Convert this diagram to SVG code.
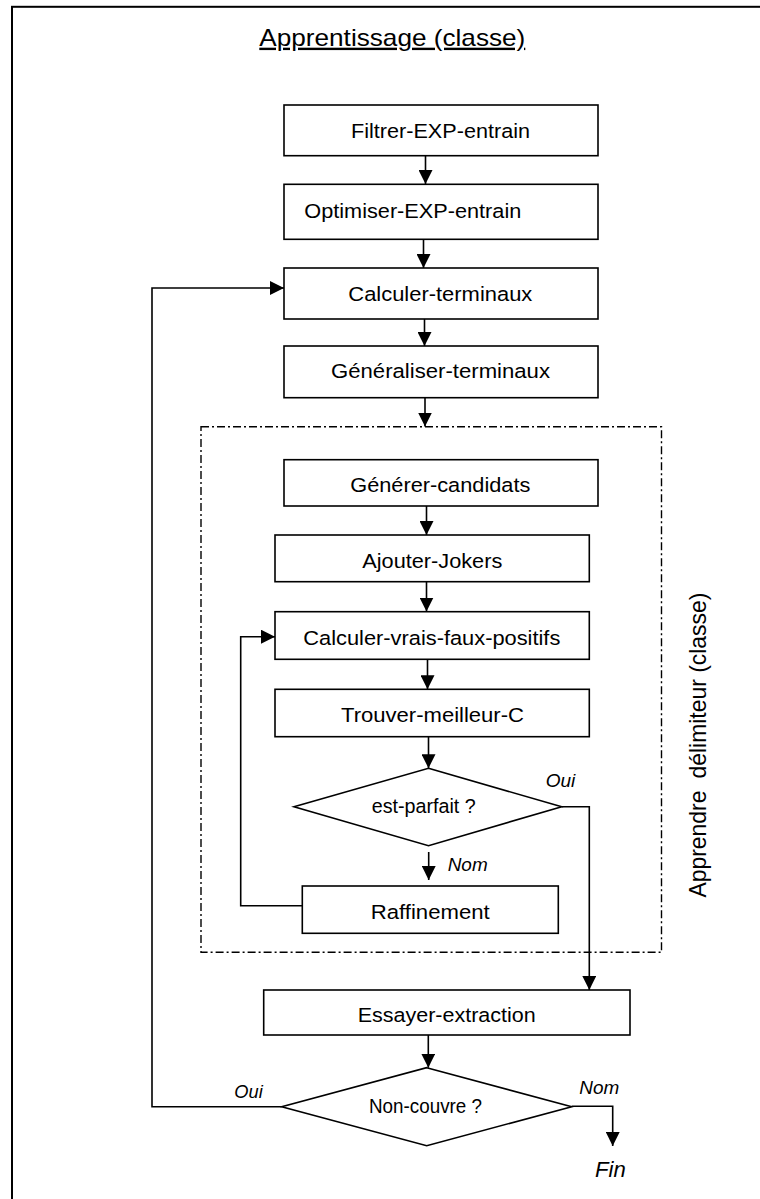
<svg xmlns="http://www.w3.org/2000/svg" width="760" height="1199" viewBox="0 0 760 1199">
<style>
  .box{fill:#fff;stroke:#000;stroke-width:1.6}
  .lbl{font-family:"Liberation Sans",Arial,sans-serif;font-size:20.5px;fill:#000}
  .it{font-family:"Liberation Sans",Arial,sans-serif;font-size:18px;font-style:italic;fill:#000}
  .cn{fill:none;stroke:#000;stroke-width:1.6}
  .arr{marker-end:url(#ah)}
</style>
<defs>
  <marker id="ah" viewBox="0 0 14 14" refX="14" refY="7" markerWidth="14" markerHeight="14" markerUnits="userSpaceOnUse" orient="auto">
    <path d="M0,0 L14,7 L0,14 Z" fill="#000"/>
  </marker>
</defs>
<rect width="760" height="1199" fill="#fff"/>
<rect id="frame" x="12" y="6.8" width="760" height="1200" fill="none" stroke="#000" stroke-width="2"/>
<text id="title" x="259.3" y="45.7" textLength="266" lengthAdjust="spacingAndGlyphs" text-decoration="underline" style="font-family:'Liberation Sans',Arial,sans-serif;font-size:24px">Apprentissage (classe)</text>

<g id="cluster">
  <rect x="201" y="426.7" width="460.5" height="525.6" fill="none" stroke="#000" stroke-width="1.4" stroke-dasharray="8 3 2 3"/>
  <text transform="translate(706,897.6) rotate(-90)" x="0" y="0" textLength="305" lengthAdjust="spacingAndGlyphs" style="font-family:'Liberation Sans',Arial,sans-serif;font-size:24px">Apprendre <tspan dx="6">délimiteur (classe)</tspan></text>
</g>

<g id="connectors">
  <line class="cn arr" x1="425.5" y1="155.7" x2="425.5" y2="184"/>
  <line class="cn arr" x1="423.5" y1="239.3" x2="423.5" y2="268"/>
  <line class="cn arr" x1="424.5" y1="319" x2="424.5" y2="346"/>
  <line class="cn arr" x1="425" y1="397.7" x2="425" y2="426.5"/>
  <line class="cn arr" x1="426.5" y1="506" x2="426.5" y2="535"/>
  <line class="cn arr" x1="426.5" y1="581.7" x2="426.5" y2="611.5"/>
  <line class="cn arr" x1="427.5" y1="659.3" x2="427.5" y2="689.3"/>
  <line class="cn arr" x1="428.5" y1="736.7" x2="428.5" y2="768.3"/>
  <line class="cn arr" x1="428.7" y1="852" x2="428.7" y2="880"/>
  <line class="cn arr" x1="428.3" y1="1035" x2="428.3" y2="1067.7"/>
  <path class="cn arr" d="M561.7,806.7 H589.3 V990"/>
  <path class="cn arr" d="M571.7,1106.2 H612.7 V1146"/>
  <path class="cn arr" d="M302.3,905.7 H240.7 V636.7 H275"/>
  <path class="cn arr" d="M281.7,1106.7 H152 V288 H284"/>
</g>

<g id="n1"><rect class="box" x="284" y="105" width="314" height="50.7"/><text class="lbl" x="351" y="138.3" textLength="179" lengthAdjust="spacingAndGlyphs">Filtrer-EXP-entrain</text></g>
<g id="n2"><rect class="box" x="284" y="184.3" width="314" height="55"/><text class="lbl" x="304.3" y="218.3" textLength="217" lengthAdjust="spacingAndGlyphs">Optimiser-EXP-entrain</text></g>
<g id="n3"><rect class="box" x="284" y="268" width="314" height="51"/><text class="lbl" x="348.3" y="301" textLength="184" lengthAdjust="spacingAndGlyphs">Calculer-terminaux</text></g>
<g id="n4"><rect class="box" x="284" y="346" width="314" height="51.7"/><text class="lbl" x="331" y="378.3" textLength="219" lengthAdjust="spacingAndGlyphs">Généraliser-terminaux</text></g>
<g id="n5"><rect class="box" x="284" y="459.7" width="314" height="46.3"/><text class="lbl" x="350.3" y="492.3" textLength="180" lengthAdjust="spacingAndGlyphs">Générer-candidats</text></g>
<g id="n6"><rect class="box" x="275" y="535" width="314.3" height="46.7"/><text class="lbl" x="362.3" y="568.3" textLength="140" lengthAdjust="spacingAndGlyphs">Ajouter-Jokers</text></g>
<g id="n7"><rect class="box" x="275" y="611.7" width="314.3" height="47.6"/><text class="lbl" x="303.3" y="645" textLength="257" lengthAdjust="spacingAndGlyphs">Calculer-vrais-faux-positifs</text></g>
<g id="n8"><rect class="box" x="275" y="689.3" width="314.3" height="47.4"/><text class="lbl" x="341" y="721.7" textLength="183" lengthAdjust="spacingAndGlyphs">Trouver-meilleur-C</text></g>
<g id="d1"><polygon class="box" points="428.5,768.3 561.7,806.7 428.5,845.7 294,806.7"/><text class="lbl" x="371.7" y="813.3" textLength="104" lengthAdjust="spacingAndGlyphs">est-parfait ?</text></g>
<g id="n9"><rect class="box" x="302.3" y="886" width="256" height="47.3"/><text class="lbl" x="370.7" y="919.3" textLength="119" lengthAdjust="spacingAndGlyphs">Raffinement</text></g>
<g id="n10"><rect class="box" x="263.7" y="990" width="366.3" height="45"/><text class="lbl" x="357.7" y="1021.7" textLength="178" lengthAdjust="spacingAndGlyphs">Essayer-extraction</text></g>
<g id="d2"><polygon class="box" points="426.7,1067.7 571.7,1106.7 426.7,1145.7 281.7,1106.7"/><text class="lbl" x="369" y="1112.7" textLength="113" lengthAdjust="spacingAndGlyphs">Non-couvre ?</text></g>

<g id="labels">
  <text class="it" x="545.7" y="786.7" textLength="29.6" lengthAdjust="spacingAndGlyphs">Oui</text>
  <text class="it" x="447.7" y="870.5" textLength="40" lengthAdjust="spacingAndGlyphs">Nom</text>
  <text class="it" x="234.3" y="1098.3" textLength="28.4" lengthAdjust="spacingAndGlyphs">Oui</text>
  <text class="it" x="579.3" y="1094" textLength="40" lengthAdjust="spacingAndGlyphs">Nom</text>
  <text class="it" x="595" y="1176.7" textLength="30.7" lengthAdjust="spacingAndGlyphs" style="font-size:22px">Fin</text>
</g>
</svg>
